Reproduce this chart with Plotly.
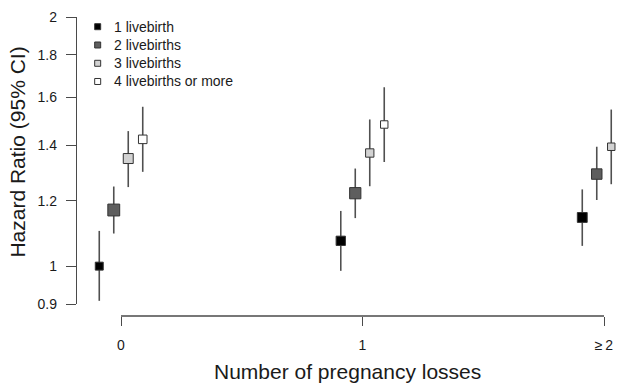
import math
import plotly.graph_objects as go

# Number of pregnancy losses (x categories)
loss_categories = [0, 1, 2]
loss_labels = ["0", "1", "\u2265\u20092"]

# Series: hazard ratio and 95% CI per livebirth group, one value per loss category
series_names = ["1 livebirth", "2 livebirths", "3 livebirths", "4 livebirths or more"]
hr_1 = [1.00, 1.073, 1.145]
lo_1 = [0.908, 0.987, 1.058]
hi_1 = [1.103, 1.166, 1.238]

hr_2 = [1.169, 1.225, 1.292]
lo_2 = [1.095, 1.143, 1.202]
hi_2 = [1.248, 1.312, 1.394]

hr_3 = [1.349, 1.370, 1.394]
lo_3 = [1.246, 1.249, 1.256]
hi_3 = [1.456, 1.504, 1.546]

hr_4 = [1.423, 1.483, None]
lo_4 = [1.300, 1.336, None]
hi_4 = [1.558, 1.645, None]

# Axis ticks
y_ticks = [0.9, 1, 1.2, 1.4, 1.6, 1.8, 2]

FONT = "Liberation Sans, Arial, sans-serif"
TEXT = "#1a1a1a"
fills = ["#000000", "#5e5e5e", "#d2d2d2", "#ffffff"]
edge = "#333333"
dodge = [-0.09, -0.03, 0.03, 0.09]
bar_color = "#505050"
axis_color = "#4a4a4a"

groups = [(hr_1, lo_1, hi_1), (hr_2, lo_2, hi_2), (hr_3, lo_3, hi_3), (hr_4, lo_4, hi_4)]

fig = go.Figure()
for i, (hr, lo, hi) in enumerate(groups):
    xs, ys, ep, em, sizes = [], [], [], [], []
    for c, h, l, u in zip(loss_categories, hr, lo, hi):
        if h is None:
            continue
        xs.append(c + dodge[i])
        ys.append(h)
        ep.append(u - h)
        em.append(h - l)
        # square size scales with precision (inverse of log CI width)
        sizes.append(1.55 / math.log(u / l))
    fig.add_trace(go.Scatter(
        x=xs, y=ys, mode="markers", showlegend=False, name=series_names[i],
        marker=dict(symbol="square", size=sizes, color=fills[i], opacity=1,
                    line=dict(color=edge, width=1)),
        error_y=dict(type="data", symmetric=False, array=ep, arrayminus=em,
                     width=0, thickness=1.6, color=bar_color),
    ))

# detached x axis line from first to last category
fig.add_shape(type="line", xref="x", yref="paper", x0=loss_categories[0], x1=loss_categories[-1],
              y0=0, y1=0, line=dict(color=axis_color, width=1.3))

# key in the upper-left corner: small squares with labels
key_x = 0.0383
key_text_x = 0.0648
key_rows = [0.9676, 0.9064, 0.8452, 0.7843]
annotations = []
for name, fill, ky in zip(series_names, fills, key_rows):
    fig.add_shape(type="rect", xref="paper", yref="paper",
                  xsizemode="pixel", ysizemode="pixel",
                  xanchor=key_x, yanchor=ky, x0=-3, x1=3, y0=-3, y1=3,
                  fillcolor=fill, line=dict(color=edge, width=1))
    annotations.append(dict(text=name, xref="paper", yref="paper", x=key_text_x, y=ky,
                            xanchor="left", yanchor="middle", showarrow=False,
                            font=dict(family=FONT, size=14, color=TEXT)))

annotations += [
    dict(text="Number of pregnancy losses", xref="paper", yref="paper",
         x=0.501, y=-0.187, xanchor="center", yanchor="middle", showarrow=False,
         font=dict(family=FONT, size=21, color=TEXT)),
    dict(text="Hazard Ratio (95% CI)", xref="paper", yref="paper",
         x=-0.110, y=0.5485, xanchor="center", yanchor="middle", showarrow=False,
         textangle=-90, font=dict(family=FONT, size=21, color=TEXT)),
]

fig.update_layout(
    width=617, height=383,
    margin=dict(l=77, r=0, t=17, b=67),
    paper_bgcolor="white", plot_bgcolor="white",
    font=dict(family=FONT, size=14, color=TEXT),
    showlegend=False,
    xaxis=dict(range=[-0.1822, 2.0538], tickvals=loss_categories, ticktext=loss_labels,
               ticks="outside", ticklen=9, tickwidth=1.3, tickcolor=axis_color,
               showline=False, showgrid=False, zeroline=False,
               anchor="free", position=0, ticklabelstandoff=7,
               tickfont=dict(family=FONT, size=14, color=TEXT)),
    yaxis=dict(type="log", range=[math.log10(0.9), math.log10(2)],
               domain=[0.0401, 1.0],
               tickvals=y_ticks, ticktext=[f"{v:g}" for v in y_ticks],
               ticks="outside", ticklen=10, tickwidth=1.3, tickcolor=axis_color,
               showline=True, linecolor=axis_color, linewidth=1.3,
               showgrid=False, zeroline=False, ticklabelstandoff=6,
               tickfont=dict(family=FONT, size=14, color=TEXT)),
    annotations=annotations,
)

fig.write_html("out.html")
